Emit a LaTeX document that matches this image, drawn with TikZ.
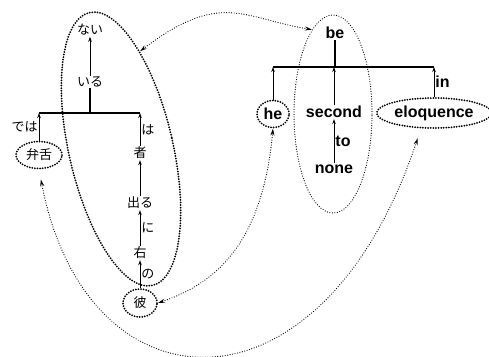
\documentclass[tikz,border=0pt]{standalone}
\usepackage{fontspec}
\newfontfamily\jpfont{Noto Sans CJK JP}
\newfontfamily\enfont{Liberation Sans}
\usetikzlibrary{arrows.meta,shapes.geometric}

\tikzset{
  jword/.style={font=\jpfont\fontsize{13}{15}\selectfont, inner sep=1pt},
  eword/.style={font=\enfont\bfseries\fontsize{16}{18}\selectfont, inner sep=1pt},
  heavydots/.style={line width=2pt, line cap=round, dash pattern=on 0pt off 2.6pt},
  lightdots/.style={line width=1.2pt, line cap=round, dash pattern=on 0pt off 2.5pt},
  ring/.style={draw, ellipse, heavydots},
  cluster/.style={draw, ellipse, inner sep=0pt},
  dep/.style={line width=0.9pt, -{Stealth[length=5pt,width=3.5pt]}},
  bar/.style={line width=1.1pt},
  link/.style={lightdots,
    {Stealth[length=7pt,width=4pt]}-{Stealth[length=7pt,width=4pt]}},
}

\begin{document}
\begin{tikzpicture}[x=1pt, y=-1pt, node distance=50pt]
    \useasboundingbox (0,0) rectangle (489,356);

    % Japanese tree
    \node[jword] (nai) at (90,30) {ない};
    \node[jword, below of=nai, node distance=52pt] (iru) {いる};
    \coordinate (jbar) at (90,113);
    \node[jword, ring, minimum width=46pt, minimum height=27pt] (benzetsu) at (39,155) {弁舌};
    \node[jword] (mono) at (140,153) {者};
    \node[jword, below of=mono] (deru) {出る};
    \node[jword, below of=deru] (migi) {右};
    \node[jword, ring, below of=migi, minimum width=34pt, minimum height=28pt] (kare) {彼};

    \draw[dep] (iru) -- (nai);
    \draw[bar] (iru) -- (jbar);
    \draw[bar] (benzetsu |- jbar) -- (mono |- jbar);
    \draw[dep] (benzetsu) -- node[jword, left] {では} (benzetsu |- jbar);
    \draw[dep] (mono) -- node[jword, right] {は} (mono |- jbar);
    \draw[dep] (deru) -- (mono);
    \draw[dep] (migi) -- node[jword, right] {に} (deru);
    \draw[dep] (kare) -- node[jword, right] {の} (migi);

    \node[cluster, heavydots, rotate=13, minimum width=104pt, minimum height=280pt] (jgroup) at (121,149) {};

    % English tree
    \node[eword] (be) at (335,33) {be};
    \coordinate (ebar) at (335,67);
    \node[eword, ring, minimum width=32pt, minimum height=27pt] (he) at (273,114) {he};
    \node[eword] (second) at (334,112) {second};
    \node[eword, below of=second, node distance=57pt] (none) {none};
    \node[eword, ring, minimum width=110pt, minimum height=30pt] (eloquence) at (434,113) {eloquence};

    \draw[bar] (be) -- (ebar);
    \draw[bar] (he |- ebar) -- (eloquence |- ebar);
    \draw[dep] (he) -- (he |- ebar);
    \draw[dep] (second) -- (second |- ebar);
    \draw[dep] (eloquence) -- node[eword, right] {in} (eloquence |- ebar);
    \draw[dep] (none) -- node[eword, right] {to} (second);

    \node[cluster, lightdots, minimum width=78pt, minimum height=198pt] (egroup) at (333,114) {};

    % Links
    \draw[link] (jgroup.66) .. controls (221,-10) and (242,18) .. (egroup.104);
    \draw[link] (he.south) .. controls (262,250) and (210,285) .. (kare.east);
    \draw[link, shorten <=10pt, shorten >=10pt] (benzetsu.south)
      .. controls (86,416) and (321,428) .. (eloquence.-130);
\end{tikzpicture}
\end{document}
